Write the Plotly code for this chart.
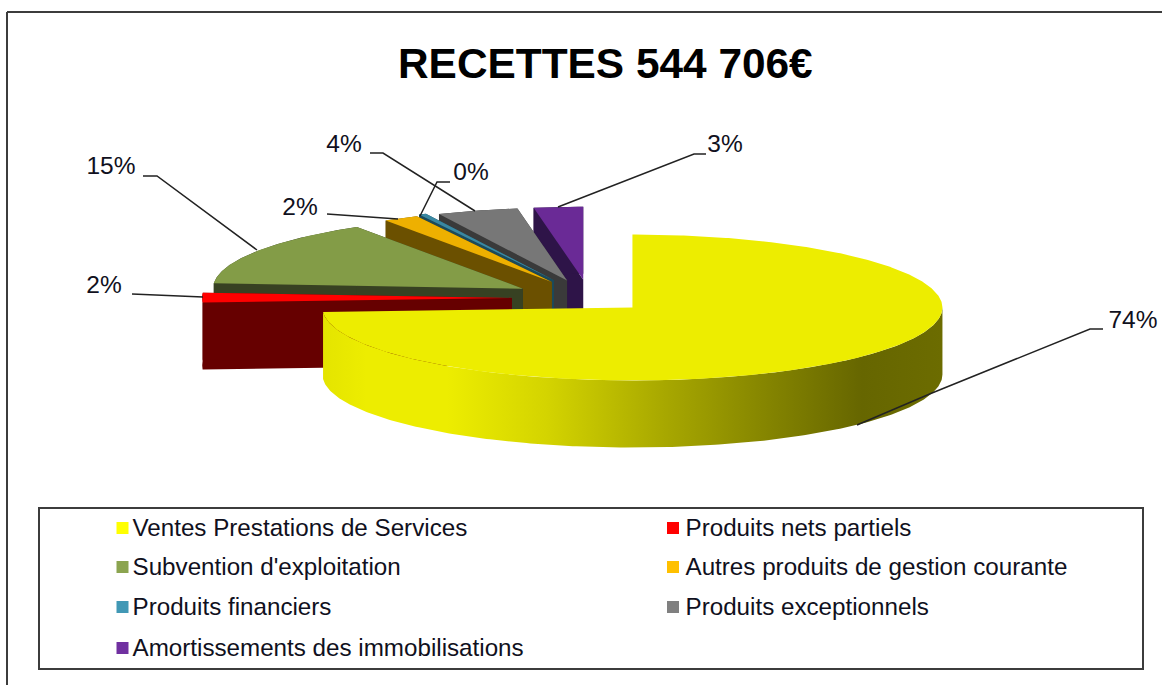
import numpy as np
import plotly.graph_objects as go

# --- data ---
categories = ["Ventes Prestations de Services", "Produits nets partiels", "Subvention d'exploitation",
              "Autres produits de gestion courante", "Produits financiers", "Produits exceptionnels",
              "Amortissements des immobilisations"]
values = [74.0, 2.15, 14.85, 1.83, 0.39, 4.22, 2.56]
pct_labels = ["74%", "2%", "15%", "2%", "0%", "4%", "3%"]
top_colors = ["#EDED00", "#FF0000", "#839C47", "#EEB000", "#3A88A2", "#777777", "#6A2A96"]
side_colors = ["#666600", "#660000", "#374122", "#6B5000", "#1C4A5A", "#3A3A3A", "#2E1448"]
legend_colors = ["#FFFF00", "#FF0000", "#8BA44F", "#FFC000", "#4198B5", "#808080", "#7030A0"]
explode = [0.19, 0.25, 0.25, 0.25, 0.27, 0.25, 0.25]
title_text = "RECETTES 544 706€"

W, H = 1162, 685
CX, CY, RX, RY, DEPTH = 589.5, 298.0, 310.0, 73.0, 67.0
TEXT = "#101020"

fig = go.Figure()


def poly(xs, ys, color=None, gradient=None):
    kw = dict(fillgradient=gradient) if gradient else dict(fillcolor=color)
    fig.add_trace(go.Scatter(x=list(xs), y=list(ys), mode="lines", fill="toself",
                             line=dict(width=0, color="rgba(0,0,0,0)"),
                             hoverinfo="skip", showlegend=False, **kw))


def pt(ax, ay, deg):
    t = np.radians(deg)
    return ax + RX * np.sin(t), ay - RY * np.cos(t)


cum = np.concatenate([[0], np.cumsum(values)]) / sum(values) * 360
wedges = []
for i in range(len(values)):
    a0, a1 = cum[i], cum[i + 1]
    mid = np.radians((a0 + a1) / 2)
    ax = CX + explode[i] * RX * np.sin(mid)
    ay = CY - explode[i] * RY * np.cos(mid)
    wedges.append((i, a0, a1, ax, ay))

# back to front: last slices first, the big front slice last
for i, a0, a1, ax, ay in reversed(wedges):
    th = np.linspace(a0, a1, max(int(a1 - a0) * 2, 6))
    ex, ey = pt(ax, ay, th)
    if i == 0:
        front = np.linspace(90, a1, 240)
        fx, fy = pt(ax, ay, front)
        poly(np.r_[fx, fx[::-1]], np.r_[fy, fy[::-1] + DEPTH],
             gradient=dict(type="horizontal",
                           colorscale=[[0.0, "#E4E400"], [0.07, "#EDED00"], [0.20, "#EDED00"],
                                       [0.36, "#D4D400"], [0.55, "#A8A800"], [0.72, "#848400"],
                                       [0.87, "#666600"], [1.0, "#6C6C00"]]))
    else:
        # radial wall at the slice's start edge and outer wall
        sx, sy = pt(ax, ay, a0)
        poly([ax, sx, sx, ax], [ay, sy, sy + DEPTH, ay + DEPTH], side_colors[i])
        ax_e, ay_e = pt(ax, ay, a1)
        poly([ax, ax_e, ax_e, ax], [ay, ay_e, ay_e + DEPTH, ay + DEPTH], side_colors[i])
        poly(np.r_[ex, ex[::-1]], np.r_[ey, ey[::-1] + DEPTH], side_colors[i])
    poly(np.r_[ax, ex, ax], np.r_[ay, ey, ay], top_colors[i])

# leader lines and percentage labels
leaders = [
    [(1103, 329), (1090, 329), (932, 393), (857, 425)],
    [(132, 294), (203, 297)],
    [(143, 176), (157, 176), (257, 250)],
    [(327, 214), (398, 219)],
    [(450, 182), (437, 182), (420, 216)],
    [(370, 153), (383, 153), (475, 211)],
    [(706, 154), (694, 154), (558, 207)],
]
label_pos = [(1133, 322), (104, 287), (111, 168), (300, 209), (471, 174), (344, 146), (725, 146)]
for i, path in enumerate(leaders):
    px, py = zip(*path)
    fig.add_trace(go.Scatter(x=px, y=py, mode="lines", line=dict(color="#222222", width=1.5),
                             hoverinfo="skip", showlegend=False))
    fig.add_trace(go.Scatter(x=[label_pos[i][0]], y=[label_pos[i][1]], mode="text",
                             text=[pct_labels[i]], textposition="middle center",
                             textfont=dict(family="Liberation Sans", size=24.5, color=TEXT),
                             hoverinfo="skip", showlegend=False))

# legend block
leg_x = [122.5, 122.5, 122.5, 122.5, 673.0, 673.0, 673.0]
leg_text_x = [132.5, 132.5, 132.5, 132.5, 685.5, 685.5, 685.5]
leg_y = [528, 567, 607, 648, 528, 567, 607]
order = [0, 2, 4, 6, 1, 3, 5]
for row, i in enumerate(order):
    fig.add_trace(go.Scatter(x=[leg_x[row]], y=[leg_y[row]], mode="markers",
                             marker=dict(symbol="square", size=12, color=legend_colors[i]),
                             hoverinfo="skip", showlegend=False))
    fig.add_trace(go.Scatter(x=[leg_text_x[row]], y=[leg_y[row] + 1.5], mode="text",
                             text=[categories[i]], textposition="middle right",
                             textfont=dict(family="Liberation Sans", size=24.2, color=TEXT),
                             hoverinfo="skip", showlegend=False))

line = dict(color="#3C3C3C", width=2)
fig.update_layout(
    width=W, height=H, autosize=False, paper_bgcolor="white", plot_bgcolor="white",
    margin=dict(l=0, r=0, t=0, b=0), showlegend=False,
    xaxis=dict(range=[0, W], visible=False, fixedrange=True),
    yaxis=dict(range=[H, 0], visible=False, fixedrange=True),
    shapes=[
        dict(type="line", x0=7, x1=7, y0=12, y1=H, line=line),
        dict(type="line", x0=7, x1=W, y0=12, y1=12, line=line),
        dict(type="rect", x0=39, x1=1143, y0=508, y1=669, line=line),
    ],
    annotations=[dict(x=605, y=63, text="<b>%s</b>" % title_text, showarrow=False,
                      font=dict(family="Liberation Sans", size=42.4, color="#000000"))],
)
fig.write_html("out.html", config=dict(displayModeBar=False),
               post_script="document.body.style.margin='0';document.body.style.overflow='hidden';")
